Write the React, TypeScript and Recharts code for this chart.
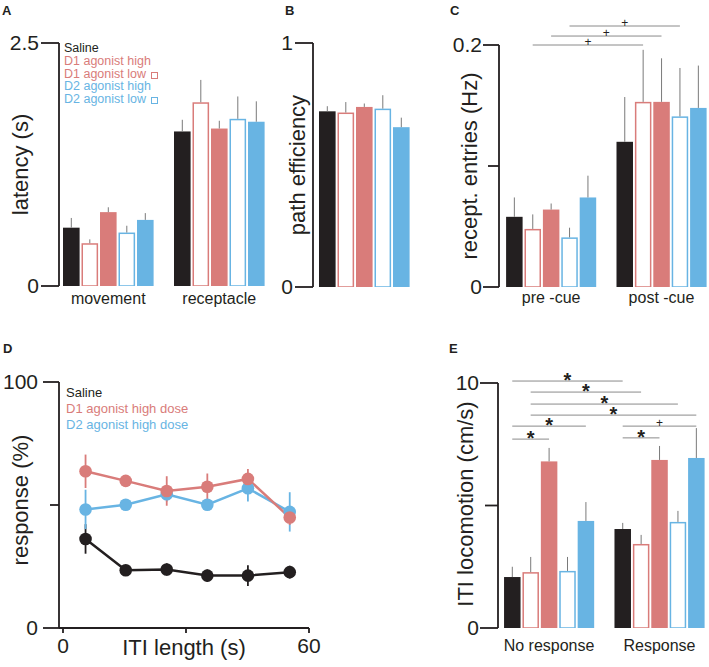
import React from 'react';
import { BarChart, Bar, XAxis, YAxis, ErrorBar, ReferenceLine, LineChart, Line } from 'recharts';

const INK = '#231f20';
const RED = '#d97c7a';
const BLUE = '#68b4e3';
const GREY = '#7a7a7a';
const FONT = "'Liberation Sans', Arial, Helvetica, sans-serif";

// order of the bars inside every group
const drugs = ['Saline', 'D1 agonist low', 'D1 agonist high', 'D2 agonist low', 'D2 agonist high'];
const drugColor = [INK, RED, RED, BLUE, BLUE];
const drugHollow = [false, true, false, true, false];

// A - latency (s)
const latencyGroups = ['movement', 'receptacle'];
const latencyMovement = [0.6, 0.44, 0.76, 0.55, 0.68];
const latencyMovementSem = [0.1, 0.04, 0.05, 0.07, 0.07];
const latencyReceptacle = [1.59, 1.89, 1.62, 1.72, 1.69];
const latencyReceptacleSem = [0.12, 0.23, 0.08, 0.23, 0.21];

// B - path efficiency
const efficiencyGroups = ['all'];
const pathEfficiency = [0.72, 0.715, 0.738, 0.731, 0.655];
const pathEfficiencySem = [0.021, 0.043, 0.014, 0.055, 0.039];

// C - receptacle entries (Hz)
const entryGroups = ['pre -cue', 'post -cue'];
const entriesPre = [0.058, 0.048, 0.064, 0.041, 0.074];
const entriesPreSem = [0.016, 0.012, 0.005, 0.008, 0.018];
const entriesPost = [0.12, 0.153, 0.153, 0.141, 0.148];
const entriesPostSem = [0.037, 0.043, 0.036, 0.04, 0.035];
const entryComparisons = [
  { from: [0, 1], to: [1, 1], level: 0.2, mark: '+' },
  { from: [0, 2], to: [1, 2], level: 0.2074, mark: '+' },
  { from: [0, 3], to: [1, 3], level: 0.2157, mark: '+' },
];

// D - response (%) by ITI length
const itiSeconds = [5.5, 15.3, 25.3, 35.2, 45.1, 55.3];
const responseSaline = [36.2, 23.5, 23.8, 21.3, 21.3, 22.7];
const responseSalineSem = [6, 2, 2.5, 2.5, 4.2, 2.6];
const responseD1High = [63.7, 59.8, 55.7, 57.4, 60.6, 44.9];
const responseD1HighSem = [6.8, 2, 6, 5.4, 4, 3];
const responseD2High = [48.2, 50.1, 54.4, 50.1, 56.8, 47.2];
const responseD2HighSem = [8, 2, 3, 2, 5.4, 8];

// E - ITI locomotion (cm/s)
const locomotionGroups = ['No response', 'Response'];
const locomotionNoResponse = [2.08, 2.28, 6.8, 2.33, 4.37];
const locomotionNoResponseSem = [0.42, 0.62, 0.55, 0.57, 0.77];
const locomotionResponse = [4.04, 3.43, 6.86, 4.33, 6.94];
const locomotionResponseSem = [0.25, 0.37, 0.57, 0.45, 1.22];
const locomotionComparisons = [
  { from: [0, 0], to: [1, 0], level: 10.08, mark: '*' },
  { from: [0, 1], to: [1, 1], level: 9.63, mark: '*' },
  { from: [0, 1], to: [1, 3], level: 9.14, mark: '*' },
  { from: [0, 1], to: [1, 4], level: 8.69, mark: '*' },
  { from: [0, 0], to: [0, 4], level: 8.24, mark: '*' },
  { from: [0, 0], to: [0, 2], level: 7.71, mark: '*' },
  { from: [1, 0], to: [1, 4], level: 8.24, mark: '+' },
  { from: [1, 0], to: [1, 2], level: 7.76, mark: '*' },
];

type Comparison = { from: number[]; to: number[]; level: number; mark: string };

function buildRows(means: number[][], sems: number[][]) {
  const rows: any[] = [];
  means.forEach((group, gi) => {
    if (gi > 0) rows.push({ id: `gap${gi}`, drug: -1, value: null, err: null });
    group.forEach((v, di) => rows.push({ id: `${gi}-${di}`, drug: di, value: v, err: [0, sems[gi][di]] }));
  });
  return rows;
}

const BarMark = (p: any) => {
  const { x, y, width, height, payload } = p;
  const d = payload?.drug ?? -1;
  if (d < 0 || !height) return <g />;
  if (drugHollow[d]) {
    return (
      <rect x={x + 0.75} y={y + 0.75} width={width - 1.5} height={height - 0.75}
        fill="#fff" stroke={drugColor[d]} strokeWidth={1.5} />
    );
  }
  return <rect x={x} y={y} width={width} height={height} fill={drugColor[d]} />;
};

// y ticks: labelled ticks are long, unlabelled ones short
function yTick(size: number, shortSize: number, gap: number, show: (v: number) => boolean) {
  return (p: any) => {
    const { x, y, payload } = p;
    const axisX = x + size + gap;
    const labelled = show(payload.value);
    const len = labelled ? size : shortSize;
    return (
      <g>
        <line x1={axisX - len} x2={axisX} y1={y} y2={y} stroke={INK} strokeWidth={1.8} />
        {labelled && (
          <text x={x} y={y} dy="0.355em" textAnchor="end" fontSize={21} fill={INK}>
            {payload.value}
          </text>
        )}
      </g>
    );
  };
}

const markLabel = (mark: string) =>
  mark === '*'
    ? { value: '*', position: 'center' as const, fontSize: 20, fontWeight: 700, fill: INK, dy: -1 }
    : { value: '+', position: 'center' as const, fontSize: 12, fill: INK, dy: -3.3 };

function GroupedBarPanel(props: {
  left: number; top: number; width: number; height: number;
  margin: { top: number; right: number; bottom: number; left: number };
  yWidth: number; xHeight: number; xPad: number; xTickGap: number; barSize: number;
  domain: [number, number]; ticks: number[]; tick: any;
  yLabel: string; yLabelDx: number; yLabelDy?: number;
  groups: string[]; means: number[][]; sems: number[][];
  comparisons?: Comparison[]; hideX?: boolean;
}) {
  const rows = buildRows(props.means, props.sems);
  const tickNames: Record<string, string> = {};
  props.groups.forEach((g, gi) => { tickNames[`${gi}-2`] = g; });
  return (
    <div style={{ position: 'absolute', left: props.left, top: props.top }}>
      <BarChart width={props.width} height={props.height} data={rows} margin={props.margin} barCategoryGap={0}>
        <XAxis dataKey="id" hide={props.hideX} interval={0} axisLine={false} tickLine={false}
          tickSize={props.xTickGap} tickMargin={0} padding={{ left: props.xPad, right: 0 }}
          height={props.xHeight} tick={{ fontSize: 16, fill: INK }}
          tickFormatter={(v: string) => tickNames[v] ?? ''} />
        <YAxis domain={props.domain} ticks={props.ticks} allowDataOverflow width={props.yWidth}
          axisLine={{ stroke: INK, strokeWidth: 1.8 }} tickLine={false}
          tickSize={props.tick.size} tickMargin={props.tick.gap}
          tick={yTick(props.tick.size, props.tick.short, props.tick.gap, props.tick.show)}
          label={{ value: props.yLabel, angle: -90, position: 'center', dx: props.yLabelDx, dy: props.yLabelDy ?? 0, fontSize: 22, fill: INK }} />
        <Bar dataKey="value" barSize={props.barSize} shape={BarMark} isAnimationActive={false}>
          <ErrorBar dataKey="err" width={0} stroke={GREY} strokeWidth={1} direction="y" />
        </Bar>
        {(props.comparisons ?? []).map((c, i) => (
          <ReferenceLine key={i} ifOverflow="visible" stroke="#8a8a8a" strokeWidth={1}
            segment={[{ x: `${c.from[0]}-${c.from[1]}`, y: c.level }, { x: `${c.to[0]}-${c.to[1]}`, y: c.level }]}
            label={markLabel(c.mark)} />
        ))}
      </BarChart>
    </div>
  );
}

const latencyLegend = [
  { name: 'Saline', color: INK, hollow: false },
  { name: 'D1 agonist high', color: RED, hollow: false },
  { name: 'D1 agonist low', color: RED, hollow: true },
  { name: 'D2 agonist high', color: BLUE, hollow: false },
  { name: 'D2 agonist low', color: BLUE, hollow: true },
];
const responseLegend = [
  { name: 'Saline', color: INK },
  { name: 'D1 agonist high dose', color: RED },
  { name: 'D2 agonist high dose', color: BLUE },
];

const letter = (l: string, left: number, top: number) => (
  <div style={{ position: 'absolute', left, top, fontSize: 13, fontWeight: 700, lineHeight: '13px', color: INK }}>{l}</div>
);

export default function App() {
  const responseRows = itiSeconds.map((t, i) => ({
    t,
    saline: responseSaline[i], salineSem: responseSalineSem[i],
    d1: responseD1High[i], d1Sem: responseD1HighSem[i],
    d2: responseD2High[i], d2Sem: responseD2HighSem[i],
  }));
  const series = [
    { key: 'saline', color: INK },
    { key: 'd2', color: BLUE },
    { key: 'd1', color: RED },
  ];

  return (
    <div style={{ position: 'absolute', left: 0, top: 0, width: 709, height: 667, background: '#fff', fontFamily: FONT, color: INK, overflow: 'hidden' }}>
      {/* A */}
      <GroupedBarPanel left={0} top={0} width={280} height={310}
        margin={{ top: 43, right: 14.5, bottom: 0, left: 0 }} yWidth={59} xHeight={24} xPad={3} xTickGap={6.6} barSize={16.6}
        domain={[0, 2.5]} ticks={[0, 2.5]} tick={{ size: 18, short: 18, gap: 2, show: () => true }}
        yLabel="latency (s)" yLabelDx={-9}
        groups={latencyGroups} means={[latencyMovement, latencyReceptacle]} sems={[latencyMovementSem, latencyReceptacleSem]} />
      {/* B */}
      <GroupedBarPanel left={230} top={0} width={190} height={310}
        margin={{ top: 43, right: 9.5, bottom: 23, left: 0 }} yWidth={83} xHeight={0} xPad={5} xTickGap={0} barSize={16.6}
        domain={[0, 1]} ticks={[0, 1]} tick={{ size: 18, short: 18, gap: 2, show: () => true }}
        yLabel="path efficiency" yLabelDx={26} hideX
        groups={efficiencyGroups} means={[pathEfficiency]} sems={[pathEfficiencySem]} />
      {/* C */}
      <GroupedBarPanel left={420} top={0} width={289} height={310}
        margin={{ top: 45, right: 1.5, bottom: 0, left: 0 }} yWidth={79} xHeight={23} xPad={6.1} xTickGap={4.9} barSize={16.5}
        domain={[0, 0.2]} ticks={[0, 0.1, 0.2]} tick={{ size: 16, short: 11, gap: 1, show: (v: number) => v !== 0.1 }}
        yLabel="recept. entries (Hz)" yLabelDx={10}
        groups={entryGroups} means={[entriesPre, entriesPost]} sems={[entriesPreSem, entriesPostSem]}
        comparisons={entryComparisons} />
      {/* E */}
      <GroupedBarPanel left={400} top={310} width={309} height={357}
        margin={{ top: 73, right: 3.5, bottom: 0, left: 0 }} yWidth={98} xHeight={39} xPad={5.05} xTickGap={11.3} barSize={16.5}
        domain={[0, 10]} ticks={[0, 5, 10]} tick={{ size: 18, short: 13, gap: 1, show: (v: number) => v !== 5 }}
        yLabel="ITI locomotion (cm/s)" yLabelDx={16.7} yLabelDy={-1.5}
        groups={locomotionGroups} means={[locomotionNoResponse, locomotionResponse]} sems={[locomotionNoResponseSem, locomotionResponseSem]}
        comparisons={locomotionComparisons} />
      {/* D */}
      <div style={{ position: 'absolute', left: 0, top: 310 }}>
        <LineChart width={330} height={357} data={responseRows} margin={{ top: 72, right: 21, bottom: 1, left: 0 }}>
          <XAxis dataKey="t" type="number" domain={[0, 60]} ticks={[0, 30, 60]} allowDataOverflow
            padding={{ left: 4, right: 0 }} height={38}
            axisLine={{ stroke: INK, strokeWidth: 1.8 }} tickLine={{ stroke: INK, strokeWidth: 1.8 }}
            tickSize={5} tickMargin={5} tick={{ fontSize: 21, fill: INK }}
            tickFormatter={(v: number) => (v === 30 ? '' : String(v))}
            label={{ value: 'ITI length (s)', position: 'center', fontSize: 22, fill: INK }} />
          <YAxis domain={[0, 100]} ticks={[0, 50, 100]} allowDataOverflow width={59}
            axisLine={{ stroke: INK, strokeWidth: 1.8 }} tickLine={false} tickSize={16} tickMargin={5}
            tick={yTick(16, 9, 5, (v: number) => v !== 50)}
            label={{ value: 'response (%)', angle: -90, position: 'center', dx: -9, dy: -5, fontSize: 22, fill: INK }} />
          {series.map((s) => (
            <Line key={s.key} dataKey={s.key} stroke={s.color} strokeWidth={2.5} isAnimationActive={false}
              dot={{ r: 6.3, fill: s.color, stroke: s.color, strokeWidth: 0 }} activeDot={false}>
              <ErrorBar dataKey={`${s.key}Sem`} width={0} stroke={s.color} strokeWidth={1.8} direction="y" />
            </Line>
          ))}
        </LineChart>
      </div>

      {/* legends */}
      <div style={{ position: 'absolute', left: 64, top: 42, fontSize: 12.5, lineHeight: '12.75px', whiteSpace: 'nowrap' }}>
        {latencyLegend.map((l) => (
          <div key={l.name} style={{ color: l.color }}>
            {l.name}
            {l.hollow && (
              <span style={{ display: 'inline-block', width: 5, height: 5, border: `1.5px solid ${l.color}`, marginLeft: 5, verticalAlign: '-1px' }} />
            )}
          </div>
        ))}
      </div>
      <div style={{ position: 'absolute', left: 66, top: 385, fontSize: 13, lineHeight: '15.8px', whiteSpace: 'nowrap' }}>
        {responseLegend.map((l) => (
          <div key={l.name} style={{ color: l.color }}>{l.name}</div>
        ))}
      </div>

      {letter('A', 2, 3.5)}
      {letter('B', 285, 3.5)}
      {letter('C', 450, 3.5)}
      {letter('D', 3, 341.5)}
      {letter('E', 449, 341.5)}
    </div>
  );
}
